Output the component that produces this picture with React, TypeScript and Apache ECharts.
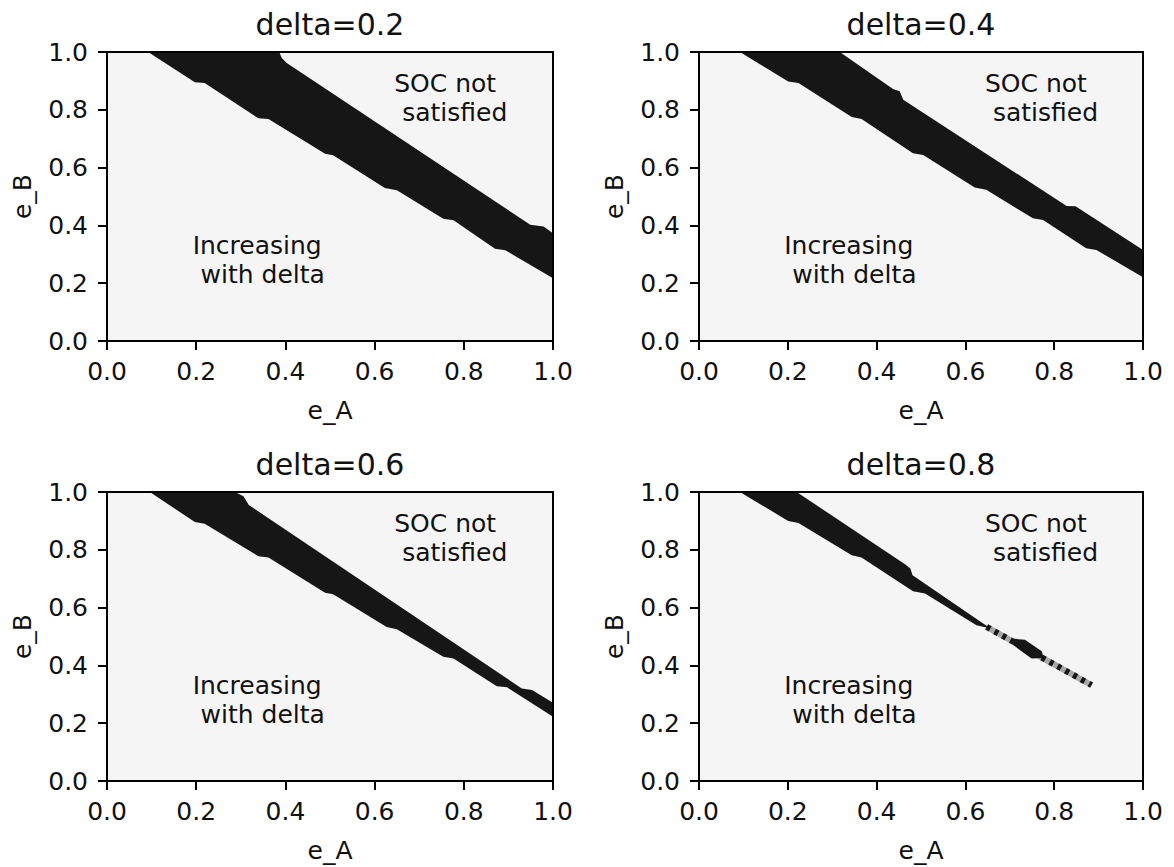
import React, { useEffect, useRef } from "react";
import * as echarts from "echarts";

// ---------- data ----------
const titles = ["delta=0.2", "delta=0.4", "delta=0.6", "delta=0.8"];
const xName = "e_A";
const yName = "e_B";
const annoTop = "SOC not\n satisfied";
const annoBottom = "Increasing\n with delta";
const annoTopPos = [0.644, 0.842];
const annoBottomPos = [0.192, 0.281];

// band boundaries (e_A, e_B): upper edge left->right, lower edge left->right
const upper02 = [[0.386, 1.0], [0.392, 0.979], [0.403, 0.962], [0.949, 0.402], [0.979, 0.396], [1.0, 0.373]];
const lower02 = [[0.092, 1.0], [0.197, 0.895], [0.219, 0.893], [0.339, 0.771], [0.362, 0.768], [0.489, 0.648], [0.507, 0.643], [0.623, 0.529], [0.65, 0.522], [0.754, 0.423], [0.777, 0.418], [0.87, 0.319], [0.893, 0.314], [1.0, 0.217]];

const upper04 = [[0.317, 1.0], [0.437, 0.872], [0.452, 0.864], [0.46, 0.835], [0.828, 0.467], [0.848, 0.466], [0.862, 0.452], [1.0, 0.315]];
const lower04 = [[0.092, 1.0], [0.201, 0.898], [0.224, 0.893], [0.344, 0.775], [0.366, 0.768], [0.482, 0.65], [0.505, 0.644], [0.621, 0.531], [0.647, 0.523], [0.752, 0.425], [0.775, 0.419], [0.872, 0.321], [0.895, 0.315], [1.0, 0.221]];

const upper06 = [[0.287, 1.0], [0.306, 0.985], [0.318, 0.955], [0.93, 0.32], [0.953, 0.315], [1.0, 0.271]];
const lower06 = [[0.096, 1.0], [0.197, 0.896], [0.219, 0.89], [0.339, 0.778], [0.362, 0.773], [0.489, 0.651], [0.507, 0.646], [0.627, 0.533], [0.65, 0.525], [0.754, 0.43], [0.777, 0.424], [0.874, 0.328], [0.897, 0.324], [1.0, 0.222]];

const upper08 = [[0.22, 1.0], [0.464, 0.75], [0.476, 0.735], [0.481, 0.712], [0.64, 0.545], [0.655, 0.53]];
const lower08 = [[0.092, 1.0], [0.201, 0.9], [0.224, 0.893], [0.344, 0.781], [0.366, 0.773], [0.482, 0.657], [0.509, 0.649], [0.625, 0.539], [0.647, 0.531]];
const blob08 = [[0.71, 0.492], [0.734, 0.489], [0.772, 0.449], [0.776, 0.426], [0.749, 0.424], [0.706, 0.472]];
const stripe08 = [[0.648, 0.533], [0.884, 0.332]];

const uppers = [upper02, upper04, upper06, upper08];
const lowers = [lower02, lower04, lower06, lower08];

// ---------- style ----------
const FONT = "DejaVu Sans";
const BAND = "#161616";
const BG = "#f5f5f5";
const TXT = "#111111";

const grids = [
  { left: 107, top: 52, width: 446, height: 289 },
  { left: 699, top: 52, width: 444, height: 289 },
  { left: 107, top: 492, width: 446, height: 289 },
  { left: 699, top: 492, width: 444, height: 289 },
];

function polygonSeries(gi: number, pts: number[][], color: string, z = 3) {
  return {
    type: "custom",
    xAxisIndex: gi,
    yAxisIndex: gi,
    data: pts,
    clip: true,
    silent: true,
    z,
    renderItem: (params: any, api: any) => {
      if (params.dataIndex !== 0) return null;
      const points = pts.map((p) => api.coord(p));
      return { type: "polygon", shape: { points }, style: { fill: color } };
    },
  };
}

function textSeries(gi: number, pos: number[], text: string) {
  return {
    type: "custom",
    xAxisIndex: gi,
    yAxisIndex: gi,
    data: [pos],
    silent: true,
    z: 6,
    renderItem: (params: any, api: any) => {
      const [x, y] = api.coord([api.value(0), api.value(1)]);
      return {
        type: "text",
        x,
        y,
        style: {
          text,
          fill: TXT,
          fontSize: 25,
          fontFamily: FONT,
          lineHeight: 29,
          align: "left",
          textAlign: "left",
          verticalAlign: "middle",
          textVerticalAlign: "middle",
        },
      };
    },
  };
}

export default function App() {
  const ref = useRef<HTMLDivElement>(null);
  useEffect(() => {
    if (!ref.current) return;
    const chart = echarts.init(ref.current, undefined, { renderer: "svg" });
    const lineStyle = { color: "#000", width: 2 };
    const labelStyle = { fontSize: 25, fontFamily: FONT, color: TXT };
    const xAxes: any[] = [];
    const yAxes: any[] = [];
    const series: any[] = [];
    grids.forEach((g, i) => {
      xAxes.push({
        type: "value", gridIndex: i, min: 0, max: 1, interval: 0.2, position: "bottom", z: 10,
        axisLine: { show: true, onZero: false, lineStyle },
        axisTick: { show: true, length: 9, lineStyle },
        axisLabel: { ...labelStyle, margin: 18, formatter: (v: number) => v.toFixed(1) },
        splitLine: { show: false },
        name: xName, nameLocation: "middle", nameGap: 57,
        nameTextStyle: { fontSize: 25, fontFamily: FONT, color: TXT },
      });
      yAxes.push({
        type: "value", gridIndex: i, min: 0, max: 1, interval: 0.2, position: "left", z: 10,
        axisLine: { show: true, onZero: false, lineStyle },
        axisTick: { show: true, length: 9, lineStyle },
        axisLabel: { ...labelStyle, margin: 19, formatter: (v: number) => v.toFixed(1) },
        splitLine: { show: false },
        name: yName, nameLocation: "middle", nameGap: 72,
        nameTextStyle: { fontSize: 25, fontFamily: FONT, color: TXT },
      });
    });
    grids.forEach((g, i) => {
      xAxes.push({
        type: "value", gridIndex: i, min: 0, max: 1, position: "top", z: 10,
        axisLine: { show: true, onZero: false, lineStyle },
        axisTick: { show: false }, axisLabel: { show: false }, splitLine: { show: false },
      });
      yAxes.push({
        type: "value", gridIndex: i, min: 0, max: 1, position: "right", z: 10,
        axisLine: { show: true, onZero: false, lineStyle },
        axisTick: { show: false }, axisLabel: { show: false }, splitLine: { show: false },
      });
    });
    grids.forEach((g, i) => {
      const poly = [...uppers[i], ...lowers[i].slice().reverse()];
      series.push(polygonSeries(i, poly, BAND));
      series.push(textSeries(i, annoTopPos, annoTop));
      series.push(textSeries(i, annoBottomPos, annoBottom));
    });
    series.push({
      type: "line", xAxisIndex: 3, yAxisIndex: 3, data: stripe08, showSymbol: false, silent: true, z: 3,
      lineStyle: { color: "#a8a8a8", width: 6, cap: "butt" },
    });
    series.push({
      type: "line", xAxisIndex: 3, yAxisIndex: 3, data: stripe08, showSymbol: false, silent: true, z: 4,
      lineStyle: { color: BAND, width: 6, type: [4, 5], cap: "butt" },
    });
    series.push(polygonSeries(3, blob08, BAND, 5));

    chart.setOption({
      animation: false,
      backgroundColor: "#ffffff",
      title: grids.map((g, i) => ({
        text: titles[i],
        left: g.left + g.width / 2,
        top: g.top - 43,
        textAlign: "center",
        padding: 0,
        textStyle: { fontSize: 30, fontWeight: "normal", fontFamily: FONT, color: TXT },
      })),
      grid: grids.map((g) => ({ ...g, show: true, backgroundColor: BG, borderWidth: 0, containLabel: false })),
      xAxis: xAxes,
      yAxis: yAxes,
      series,
    });
    return () => chart.dispose();
  }, []);
  return <div ref={ref} style={{ position: "fixed", left: 0, top: 0, width: 1174, height: 867 }} />;
}
